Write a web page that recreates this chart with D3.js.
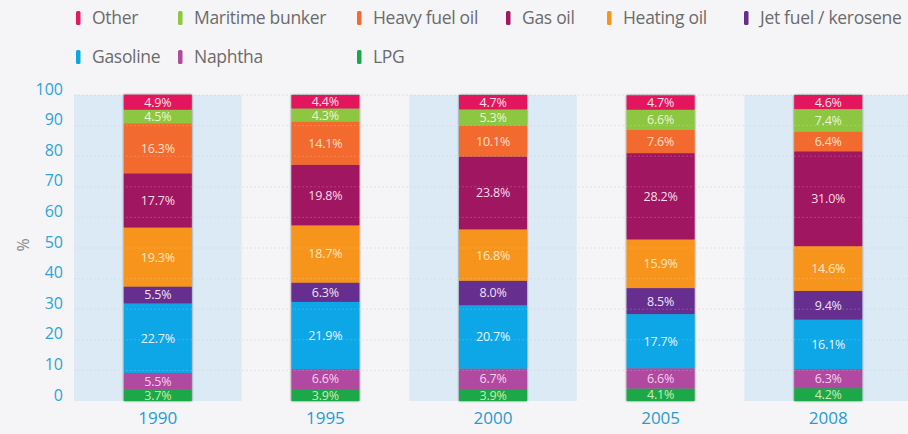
<!DOCTYPE html>
<html>
<head>
<meta charset="utf-8">
<script src="https://cdn.jsdelivr.net/npm/d3@7"></script>
<style>
  html, body { margin: 0; padding: 0; background: #f5f5f7; }
  svg { display: block; }
</style>
</head>
<body>
<svg id="chart" width="908" height="434"></svg>
<script>
// Share of each oil product in total demand, %
const years = ["1990", "1995", "2000", "2005", "2008"];
const products = ["LPG", "Naphtha", "Gasoline", "Jet fuel / kerosene", "Heating oil",
                  "Gas oil", "Heavy fuel oil", "Maritime bunker", "Other"];
const lpg        = [3.7, 3.9, 3.9, 4.1, 4.2];
const naphtha    = [5.5, 6.6, 6.7, 6.6, 6.3];
const gasoline   = [22.7, 21.9, 20.7, 17.7, 16.1];
const jetFuel    = [5.5, 6.3, 8.0, 8.5, 9.4];
const heatingOil = [19.3, 18.7, 16.8, 15.9, 14.6];
const gasOil     = [17.7, 19.8, 23.8, 28.2, 31.0];
const heavyFuel  = [16.3, 14.1, 10.1, 7.6, 6.4];
const maritime   = [4.5, 4.3, 5.3, 6.6, 7.4];
const other      = [4.9, 4.4, 4.7, 4.7, 4.6];
const yTicks = [0, 10, 20, 30, 40, 50, 60, 70, 80, 90, 100];

const seriesValues = [lpg, naphtha, gasoline, jetFuel, heatingOil, gasOil, heavyFuel, maritime, other];
const colors = {
  "LPG": "#1ba84a",
  "Naphtha": "#b04a9f",
  "Gasoline": "#0aa6e6",
  "Jet fuel / kerosene": "#662d8f",
  "Heating oil": "#f7941e",
  "Gas oil": "#a11760",
  "Heavy fuel oil": "#f26b2f",
  "Maritime bunker": "#8dc641",
  "Other": "#e3195d"
};
const labelColors = {
  "LPG": "#c9eeb0",
  "Naphtha": "#f6d0ef",
  "Gasoline": "#e6f6ff",
  "Jet fuel / kerosene": "#ece2f6",
  "Heating oil": "#ffe8c8",
  "Gas oil": "#f7dcea",
  "Heavy fuel oil": "#ffe0cc",
  "Maritime bunker": "#eaf7d5",
  "Other": "#fde2eb"
};

// Legend layout: two rows in a column grid
const legendRows = [
  ["Other", "Maritime bunker", "Heavy fuel oil", "Gas oil", "Heating oil", "Jet fuel / kerosene"],
  ["Gasoline", "Naphtha", "LPG"]
];

const table = years.map((yr, i) => {
  const row = { year: yr };
  products.forEach((p, j) => { row[p] = seriesValues[j][i]; });
  return row;
});

const font = "'Open Sans', sans-serif";
const svg = d3.select("#chart");
const x = d3.scaleBand().domain(years).range([74, 912]).padding(0);
const y = d3.scaleLinear().domain([0, 100]).range([401, 95]);
const barW = 68;

// Alternating background bands
svg.append("g").selectAll("rect")
  .data(years.filter((d, i) => i % 2 === 0))
  .join("rect")
  .attr("x", d => x(d))
  .attr("y", y(100))
  .attr("width", x.bandwidth())
  .attr("height", y(0) - y(100))
  .attr("fill", "#dbeaf5");

// Faint dotted gridlines
svg.append("g").selectAll("line")
  .data(yTicks.slice(1))
  .join("line")
  .attr("x1", 74).attr("x2", 908)
  .attr("y1", d => y(d)).attr("y2", d => y(d))
  .attr("stroke", "#c9cdd2")
  .attr("stroke-opacity", 0.5)
  .attr("stroke-dasharray", "2,2");

// Stacked bars
const stacked = d3.stack().keys(products)(table);

const defs = svg.append("defs");
const f = defs.append("filter").attr("id", "shadow").attr("x", "-20%").attr("y", "-5%").attr("width", "140%").attr("height", "110%");
f.append("feGaussianBlur").attr("in", "SourceAlpha").attr("stdDeviation", 1.2).attr("result", "b");
f.append("feComponentTransfer").attr("in", "b").attr("result", "s")
  .append("feFuncA").attr("type", "linear").attr("slope", 0.6);
const m = f.append("feMerge");
m.append("feMergeNode").attr("in", "s");
m.append("feMergeNode").attr("in", "SourceGraphic");

const barsG = svg.append("g").attr("filter", "url(#shadow)");
stacked.forEach(layer => {
  barsG.append("g").selectAll("rect")
    .data(layer)
    .join("rect")
    .attr("x", d => x(d.data.year) + x.bandwidth() / 2 - barW / 2)
    .attr("y", d => y(d[1]))
    .attr("width", barW)
    .attr("height", d => y(d[0]) - y(d[1]))
    .attr("fill", colors[layer.key]);
});

// Gridlines showing faintly over the bars
svg.append("g").selectAll("line")
  .data(yTicks.slice(1, -1))
  .join("line")
  .attr("x1", 74).attr("x2", 908)
  .attr("y1", d => y(d)).attr("y2", d => y(d))
  .attr("stroke", "#ffffff")
  .attr("stroke-opacity", 0.18)
  .attr("stroke-dasharray", "2,2");

// Value labels
stacked.forEach(layer => {
  svg.append("g").selectAll("text")
    .data(layer)
    .join("text")
    .attr("x", d => x(d.data.year) + x.bandwidth() / 2)
    .attr("y", d => (y(d[0]) + y(d[1])) / 2)
    .attr("dy", "0.36em")
    .attr("text-anchor", "middle")
    .attr("font-family", font)
    .attr("font-size", 12.5)
    .attr("letter-spacing", -0.2)
    .attr("fill", labelColors[layer.key])
    .text(d => (d[1] - d[0]).toFixed(1) + "%");
});

// Y axis
const yAxis = d3.axisLeft(y).tickValues(yTicks).tickSize(0).tickPadding(0);
const yg = svg.append("g").attr("transform", "translate(63,-6)").call(yAxis);
yg.select(".domain").remove();
yg.selectAll("text")
  .attr("font-family", font)
  .attr("font-size", 16)
  .attr("fill", "#2aa5d8");

svg.append("text")
  .attr("transform", "translate(23,245) rotate(-90)")
  .attr("text-anchor", "middle")
  .attr("dy", "0.35em")
  .attr("font-family", font)
  .attr("font-size", 16)
  .attr("fill", "#8a8a8a")
  .text("%");

// X axis
const xAxis = d3.axisBottom(x).tickSize(0).tickPadding(0);
const xg = svg.append("g").attr("transform", "translate(0,412)").call(xAxis);
xg.select(".domain").remove();
xg.selectAll("text")
  .attr("font-family", font)
  .attr("font-size", 17)
  .attr("fill", "#2a9ad3");

// Legend
const colX = [76, 178, 357, 506, 607, 744];
const rowY = [18, 57];
const legend = svg.append("g");
legendRows.forEach((row, r) => {
  row.forEach((name, c) => {
    const g = legend.append("g").attr("transform", `translate(${colX[c]},${rowY[r]})`);
    g.append("rect")
      .attr("x", 0).attr("y", -7).attr("width", 4.5).attr("height", 14).attr("rx", 1.5)
      .attr("fill", colors[name]);
    g.append("text")
      .attr("x", 16).attr("y", 0).attr("dy", "0.35em")
      .attr("font-family", font)
      .attr("font-size", 17.5)
      .attr("letter-spacing", -0.3)
      .attr("fill", "#6b6b6b")
      .text(name);
  });
});
</script>
</body>
</html>
